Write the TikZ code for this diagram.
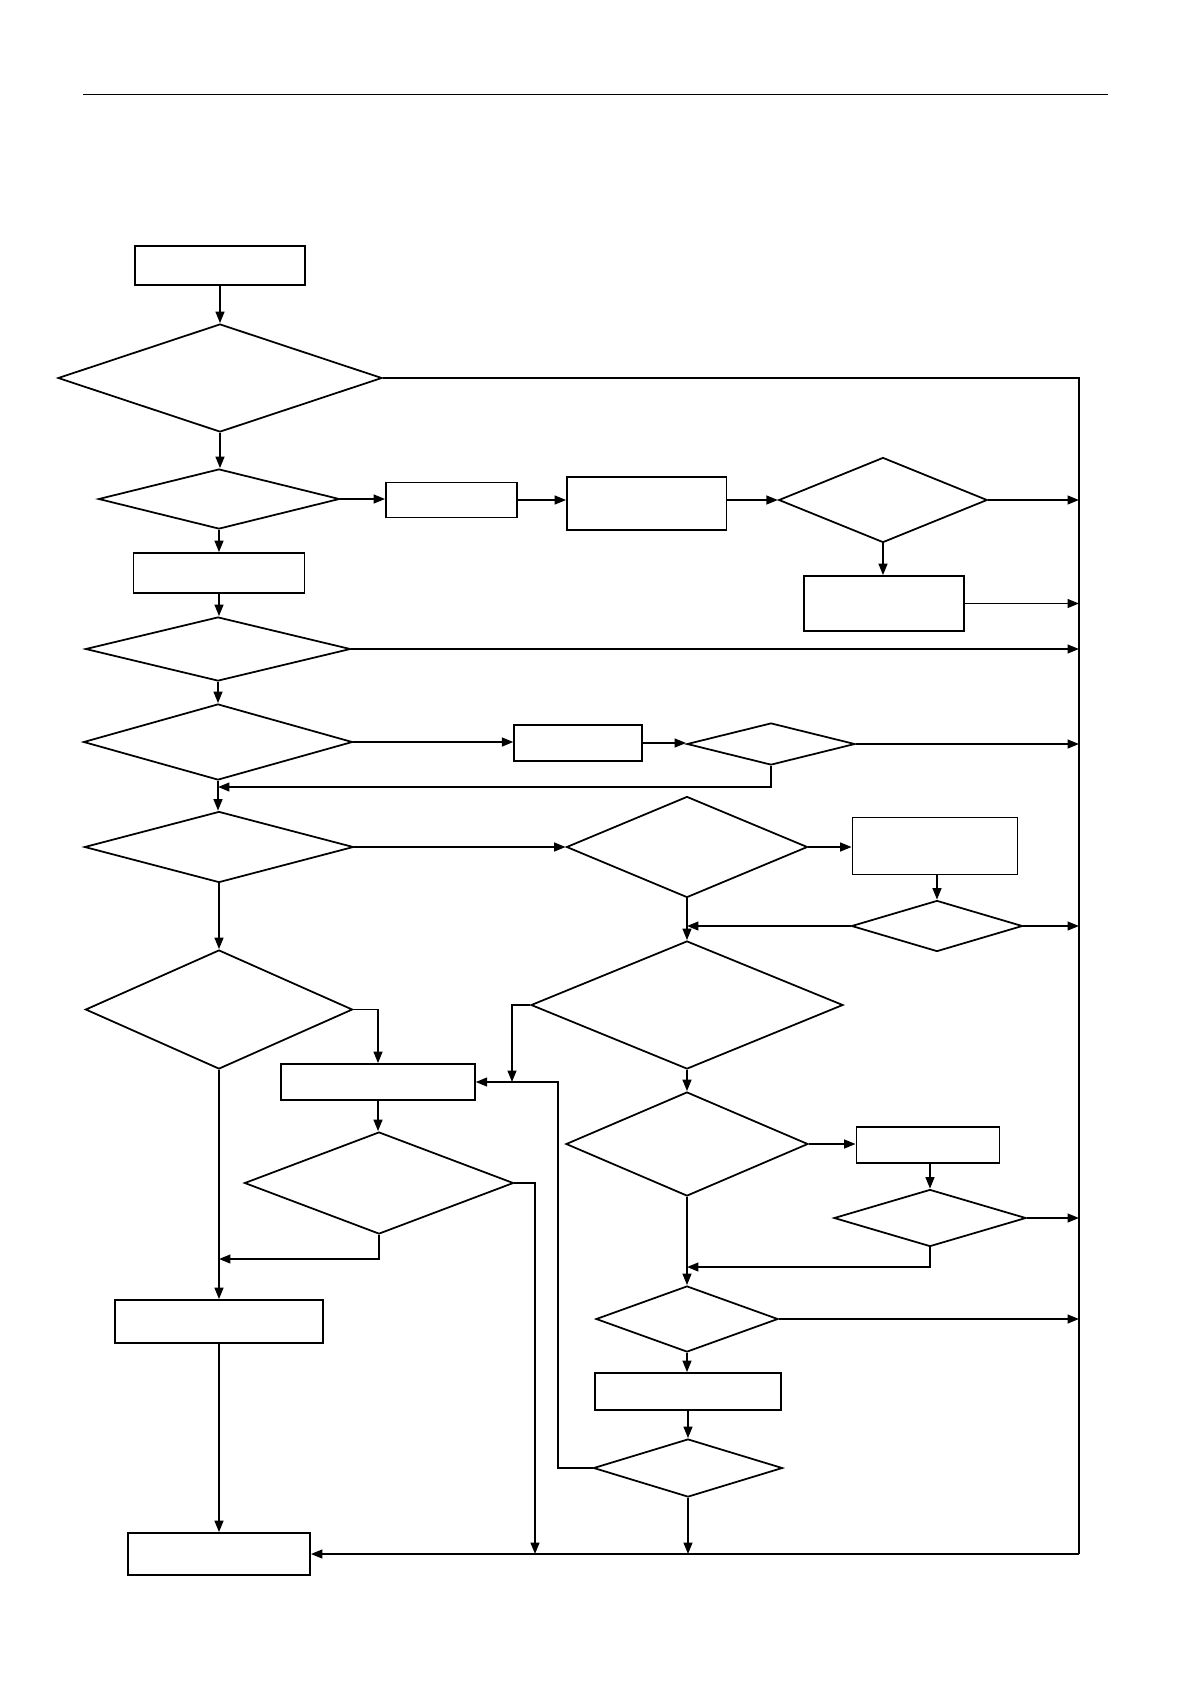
\documentclass[tikz,border=0pt]{standalone}
\usepackage{tikz}
\usetikzlibrary{arrows.meta,shapes.geometric}

\begin{document}
\begin{tikzpicture}[x=0.02cm,y=-0.02cm,
  box/.style 2 args={draw, line width=1pt, minimum width=#1*0.02cm, minimum height=#2*0.02cm, inner sep=0pt},
  dia/.style 2 args={draw, diamond, line width=1pt, minimum width=#1*0.02cm, minimum height=#2*0.02cm, inner sep=0pt},
  arr/.style={line width=1pt, -{Triangle[length=6.5pt,width=5pt]}},
  thin/.style={line width=0.7pt}]
  \useasboundingbox (0,0) rectangle (1191,1684);
  % header rule
  \draw[line width=0.6pt] (83,94.5) -- (1108,94.5);

  % left column
  \node[box={170}{39}] (start) at (220,265.5) {};
  \node[dia={324}{108}] (d1) at (220,378) {};
  \node[dia={241}{60}] (d2) at (219,499) {};
  \node[box={171}{40}] (a2) at (219,573) {};
  \node[dia={265}{64}] (d4) at (218,649) {};
  \node[dia={269}{76}] (d5) at (218,742) {};
  \node[dia={269}{71}] (d7) at (219,847) {};
  \node[dia={267}{119}] (d11) at (219,1009.5) {};
  \node[box={193.6}{36}] (a3) at (378,1082) {};
  \node[dia={269}{102}] (d12) at (379,1183) {};
  \node[box={208}{43}] (a4) at (219,1321.5) {};
  \node[box={182}{42}] (a5) at (219,1554) {};

  % top branch
  \node[box={131}{35}] (b1) at (451.5,500) {};
  \node[box={159.5}{53}] (b2) at (646.75,503.5) {};
  \node[dia={208.5}{85}] (d3) at (883,500) {};
  \node[box={159.5}{55}] (b3) at (884,603.5) {};
  \node[box={127.5}{36}] (b4) at (578,743) {};
  \node[dia={168}{42}] (d6) at (771,744) {};

  % middle column
  \node[dia={241}{101}] (d8) at (687,847) {};
  \node[box={165}{57}] (b5) at (935,846) {};
  \node[dia={171}{51}] (d9) at (937,926) {};
  \node[dia={312}{128}] (d10) at (687,1005) {};
  \node[dia={242}{104}] (d13) at (687,1144) {};
  \node[box={143}{36}] (b6) at (928,1145) {};
  \node[dia={192}{57}] (d14) at (930,1218) {};
  \node[dia={182}{66}] (d16) at (687,1319) {};
  \node[box={186}{37}] (b7) at (688,1391.5) {};
  \node[dia={189}{58}] (d15) at (688,1468) {};

  % joints
  \coordinate (rtop) at (1079,378);
  \coordinate (rbot) at (1079,1554);
  \coordinate (m1) at (218,787);
  \coordinate (m2) at (219,1259);
  \coordinate (m3) at (687,1267);
  \coordinate (j1) at (512,1082);
  \coordinate (j2) at (558,1082);
  \coordinate (j3) at (535,1554);
  \coordinate (j4) at (688,1554);

  % right return line
  \draw[thin] (d1.east) -- (rtop) -- (rbot);
  \draw[arr] (rbot) -- (a5.east);

  \draw[arr] (start) -- (start |- d1.north);
  \draw[arr] (d1) -- (d1 |- d2.north);
  \draw[arr] (d2.east) -- (d2.east -| b1.west);
  \draw[arr] (b1.east) -- (b1.east -| b2.west);
  \draw[arr] (b2.east |- d3.west) -- (d3.west);
  \draw[arr] (d3.east) -- (d3.east -| rtop);
  \draw[arr] (d3.south) -- (d3.south |- b3.north);
  \draw[arr] (b3.east) -- (b3.east -| rtop);
  \draw[arr] (d2) -- (a2);
  \draw[arr] (a2.south) -- (a2.south |- d4.north);
  \draw[arr] (d4.east) -- (d4.east -| rtop);
  \draw[arr] (d4) -- (d5);
  \draw[arr] (d5.east) -- (d5.east -| b4.west);
  \draw[arr] (b4.east) -- (b4.east -| d6.west);
  \draw[arr] (d6.east) -- (d6.east -| rtop);
  \draw[arr] (d6.south) |- (m1);
  \draw[arr] (d5.south) -- (d5.south |- d7.north);
  \draw[arr] (d7.east) -- (d8.west);
  \draw[arr] (d8.east) -- (d8.east -| b5.west);
  \draw[arr] (b5.south -| d9.north) -- (d9.north);
  \draw[arr] (d9.east) -- (d9.east -| rtop);
  \draw[arr] (d9.west) -- (d9.west -| d8.south);
  \draw[arr] (d8) -- (d10);
  \draw[arr] (d10.west) -| (j1);
  \draw[arr] (d7) -- (d11);
  \draw[arr] (d11.east) -| (a3.north);
  \draw[arr] (a3.south) -- (a3.south |- d12.north);
  \draw[arr] (d12.east) -| (j3);
  \draw[arr] (d12.south) |- (m2);
  \draw[arr] (d11) -- (a4);
  \draw[arr] (a4) -- (a5);
  \draw[arr] (d10) -- (d13);
  \draw[arr] (d13.east) -- (d13.east -| b6.west);
  \draw[arr] (b6.south -| d14.north) -- (d14.north);
  \draw[arr] (d14.east) -- (d14.east -| rtop);
  \draw[arr] (d14.south) |- (m3);
  \draw[arr] (d13) -- (d16);
  \draw[arr] (d16.east) -- (d16.east -| rtop);
  \draw[arr] (d16.south) -- (d16.south |- b7.north);
  \draw[arr] (b7) -- (d15);
  \draw[arr] (d15.west) -| (j2) -- (a3.east);
  \draw[arr] (d15.south) -- (j4);
\end{tikzpicture}
\end{document}
